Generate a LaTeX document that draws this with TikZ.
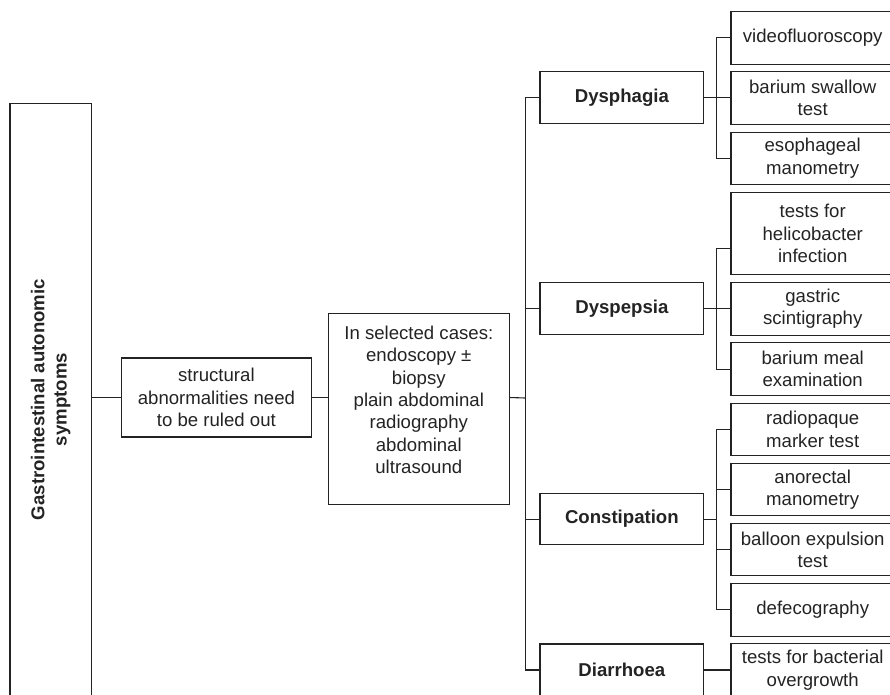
\documentclass[tikz,border=0pt]{standalone}
\usepackage{fontspec}
\setmainfont{Liberation Sans}
\usetikzlibrary{positioning}
\definecolor{trazo}{RGB}{35,35,35}

\begin{document}
\begin{tikzpicture}[
    x=1pt, y=-1pt,
    node distance=7.8pt,
    box/.style={rectangle, draw=trazo, line width=1.1pt, outer sep=0pt, text=trazo,
                align=center, font=\fontsize{18.6}{22.3}\selectfont},
    cat/.style={box, minimum width=163.7pt, minimum height=51.5pt,
                font=\fontsize{18.6}{22.3}\selectfont\bfseries},
    test/.style={box, minimum width=163.4pt, minimum height=52.4pt},
    link/.style={draw=trazo, line width=1.1pt}
]
\useasboundingbox (0,0) rectangle (890,694);
\clip (0,0) rectangle (890,694);

\node[box, rotate=90, minimum width=592.7pt, minimum height=81.3pt,
      font=\fontsize{18.6}{22.3}\selectfont\bfseries] (gis) at (50.6,399.6)
      {Gastrointestinal autonomic\\symptoms};
\node[box, minimum width=190.7pt, minimum height=79pt] (struct) at (216.4,397.5)
      {structural\\abnormalities need\\to be ruled out};
\node[box, minimum width=181pt, minimum height=191pt] (sel) at (418.8,408.8) {};
\node[box, draw=none] (seltxt) at (418.8,399.8)
      {In selected cases:\\endoscopy ±\\biopsy\\plain abdominal\\radiography\\abdominal\\ultrasound};

\node[cat] (dysph) at (621.85,97.65) {Dysphagia};
\node[cat] (dyspe) at (621.85,308.35) {Dyspepsia};
\node[cat] (consti) at (621.85,519.15) {Constipation};
\node[cat, minimum height=52pt] (diarr) at (621.85,670) {Diarrhoea};

\node[test, anchor=north west] (vf) at (731,11.7) {videofluoroscopy};
\node[test, below=of vf] (bsw) {barium swallow\\test};
\node[test, below=of bsw] (eso) {esophageal\\manometry};
\node[test, below=of eso, minimum height=82.6pt] (hel) {tests for\\helicobacter\\infection};
\node[test, below=of hel] (scint) {gastric\\scintigraphy};
\node[test, below=of scint] (bmeal) {barium meal\\examination};
\node[test, below=of bmeal] (rom) {radiopaque\\marker test};
\node[test, below=of rom] (arm) {anorectal\\manometry};
\node[test, below=of arm] (bet) {balloon expulsion\\test};
\node[test, below=of bet] (dfg) {defecography};
\node[test, below=of dfg] (sibo) {tests for bacterial\\overgrowth};

\coordinate (tr) at (525.7,398);
\coordinate (bus) at (716.7,0);
\coordinate (hk) at (716.7,248.3);

\draw[link] (struct.west) -- (struct.west -| gis.south);
\draw[link] (struct.east) -- (struct.east -| sel.west);
\draw[link] (struct.east -| sel.east) -- (tr);
\draw[link] (dysph.west) -| (tr) |- (diarr.west);
\draw[link] (dyspe.west) -- (dyspe.west -| tr);
\draw[link] (consti.west) -- (consti.west -| tr);

\draw[link] (dysph.east) -- (dysph.east -| bsw.west);
\draw[link] (vf.west) -| (eso.west -| bus) -- (eso.west);
\draw[link] (dyspe.east) -- (dyspe.east -| scint.west);
\draw[link] (hel.west |- hk) -- (hk) |- (bmeal.west);
\draw[link] (consti.east) -- (consti.east -| bus);
\draw[link] (rom.west) -| (dfg.west -| bus) -- (dfg.west);
\draw[link] (arm.west) -- (arm.west -| bus);
\draw[link] (bet.west) -- (bet.west -| bus);
\draw[link] (diarr.east) -- (diarr.east -| sibo.west);
\end{tikzpicture}
\end{document}
